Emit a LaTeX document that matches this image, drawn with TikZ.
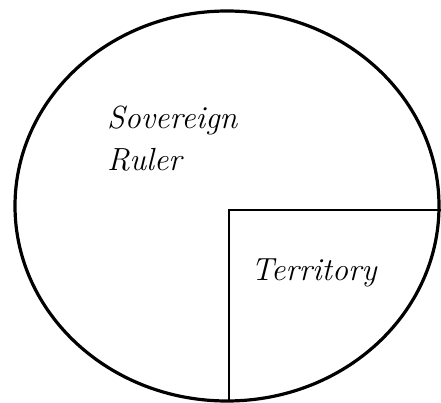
\documentclass[tikz,border=0pt]{standalone}
\usepackage{tikz}
\usetikzlibrary{positioning}

\begin{document}
\begin{tikzpicture}[x=1pt,y=-1pt]
\useasboundingbox (0,0) rectangle (441,403);
\tikzset{label text/.style={inner sep=0pt,font=\fontsize{32}{42}\selectfont\itshape}}
% the ruler's domain
\draw[line width=3.2pt] (227,206) ellipse (212 and 195);
% territory corner
\coordinate (tl) at (229,210);
\coordinate (tr) at (441,210);
\coordinate (bl) at (229,401);
\draw[line width=1.6pt] (bl) -- (tl) -- (tr);
\node[label text,anchor=north west,align=left] (ruler) at (107,106) {Sovereign\\Ruler};
\node[label text,anchor=base west] (terr) at (251,280) {Territory};
\end{tikzpicture}
\end{document}
